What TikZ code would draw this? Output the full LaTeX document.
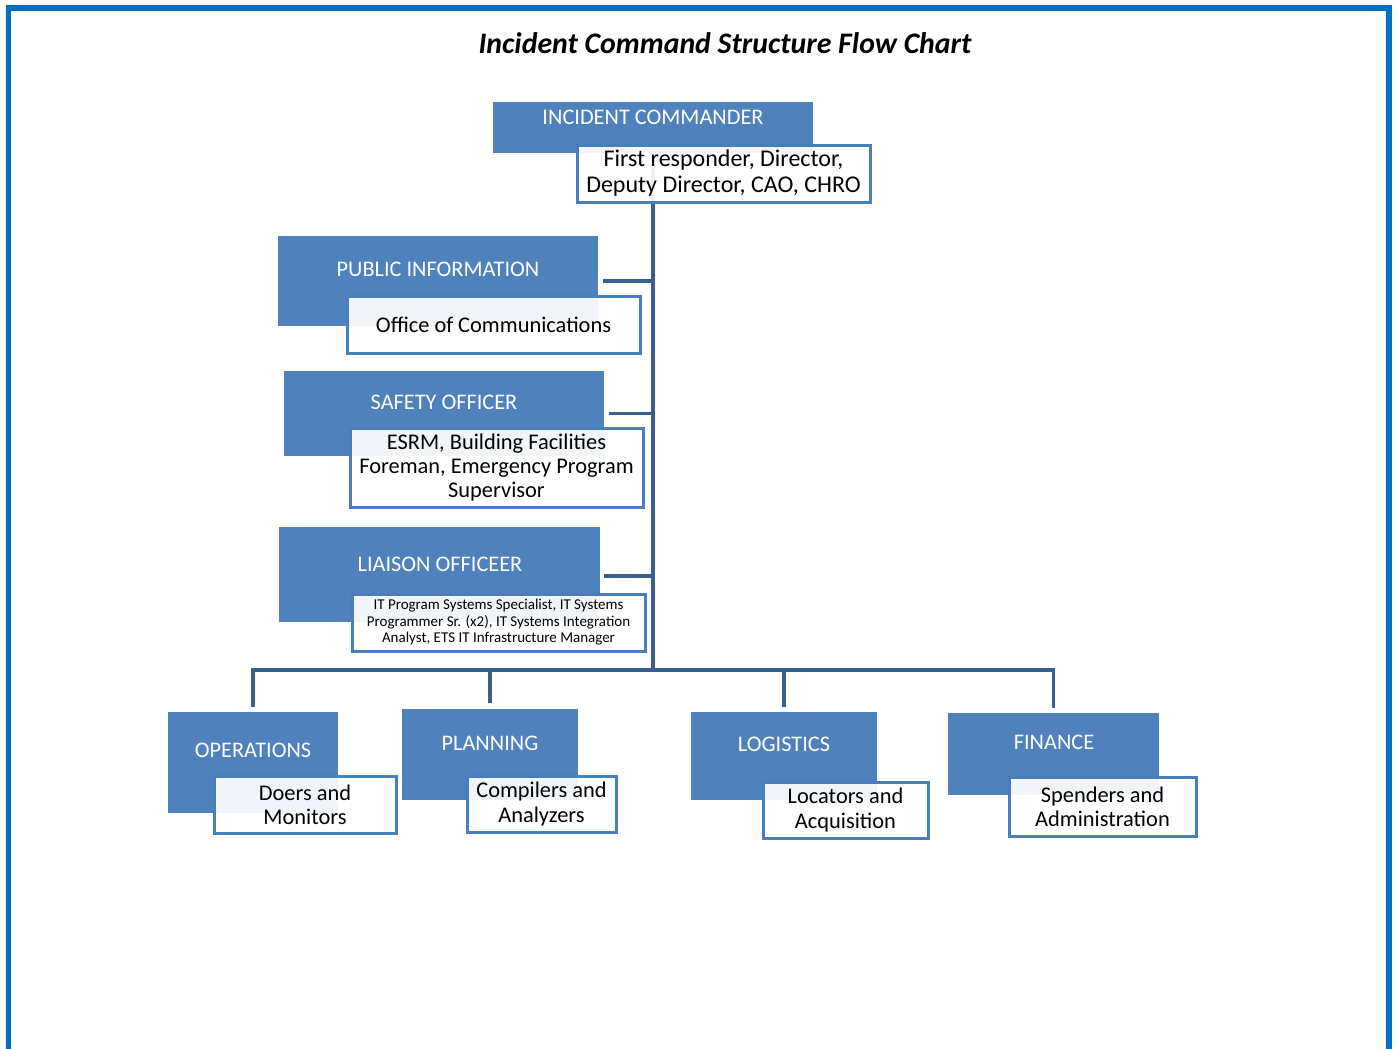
\documentclass[tikz,border=0pt]{standalone}
\usepackage{fontspec}
\setmainfont{Carlito}
\definecolor{boxblue}{HTML}{4F81BD}
\definecolor{linkblue}{HTML}{3B5F8C}
\definecolor{frameblue}{HTML}{0070C0}
\definecolor{edgeblue}{HTML}{4A7EBB}
\tikzset{
  bluebox/.style={draw=none, fill=boxblue, inner sep=0pt},
  whitebox/.style={draw=edgeblue, line width=3pt, fill=white, fill opacity=0.92, text opacity=1, inner sep=0pt, align=center, font=\fontsize{22.4}{24.4}\selectfont},
  bigwhite/.style={whitebox, font=\fontsize{24}{26}\selectfont},
  smallwhite/.style={whitebox, font=\fontsize{15}{16.5}\selectfont},
  headtext/.style={text=white, font=\fontsize{22.3}{25}\selectfont, inner sep=0pt},
  conn/.style={draw=linkblue, line width=3.5pt},
}
\begin{document}
\begin{tikzpicture}[x=1pt,y=-1pt]
\useasboundingbox (0,0) rectangle (1397,1049);
\clip (0,0) rectangle (1397,1049);
\fill[white] (0,0) rectangle (1397,1049);
\draw[frameblue, line width=5.5pt] (8.5,1070) -- (8.5,8) -- (1389,8) -- (1389,1070);

\node[font=\fontsize{29.8}{32}\selectfont\bfseries\itshape, inner sep=0pt] (title) at (725,43) {Incident Command Structure Flow Chart};

% blue boxes
\node[bluebox, minimum width=320pt, minimum height=51pt] (ic) at (653,127.5) {};
\node[bluebox, minimum width=320pt, minimum height=90pt] (pi) at (438,281) {};
\node[bluebox, minimum width=320pt, minimum height=85pt] (so) at (444,413.5) {};
\node[bluebox, minimum width=321pt, minimum height=95pt] (lo) at (439.5,574.5) {};
\node[bluebox, minimum width=170pt, minimum height=101pt] (ops) at (253,762.5) {};
\node[bluebox, minimum width=176pt, minimum height=91pt] (plan) at (490,754.5) {};
\node[bluebox, minimum width=186pt, minimum height=88pt] (log) at (784,756) {};
\node[bluebox, minimum width=211pt, minimum height=82pt] (fin) at (1053.5,754) {};

% header texts
\node[headtext] (ict) at (653,117) {INCIDENT COMMANDER};
\node[headtext] (pit) at (438,269) {PUBLIC INFORMATION};
\node[headtext] (sot) at (444,402) {SAFETY OFFICER};
\node[headtext] (lot) at (440,564) {LIAISON OFFICEER};
\node[headtext] (opst) at (253,750) {OPERATIONS};
\node[headtext] (plant) at (490,743) {PLANNING};
\node[headtext] (logt) at (784,744) {LOGISTICS};
\node[headtext] (fint) at (1054,742) {FINANCE};

% connectors
\coordinate (bus) at (653,670);
\draw[conn] (ic.south) -- (bus);
\draw[conn] ([xshift=5pt]pi.east) -- (pi.east -| bus);
\draw[conn] ([xshift=5pt]so.east) -- (so.east -| bus);
\draw[conn] ([xshift=4pt,yshift=-1.5pt]lo.east) -- ([yshift=-1.5pt]lo.east -| bus);
\draw[conn] ([yshift=5pt]ops.north) |- (bus) -| ([yshift=5pt]fin.north);
\draw[conn] ([yshift=6pt]plan.north) -- (plan.north |- bus);
\draw[conn] ([yshift=5pt]log.north) -- (log.north |- bus);

% white boxes
\node[bigwhite, minimum width=293pt, minimum height=57pt] (icw) at (723.5,173.5) {First responder, Director,\\Deputy Director, CAO, CHRO};
\node[whitebox, minimum width=293pt, minimum height=57pt] (piw) at (493.5,324.5) {Office of Communications};
\node[whitebox, minimum width=293pt, minimum height=79pt] (sow) at (496.5,467.5) {ESRM, Building Facilities\\Foreman, Emergency Program\\Supervisor};
\node[smallwhite, minimum width=293pt, minimum height=57pt] (low) at (498.5,622.5) {IT Program Systems Specialist, IT Systems\\Programmer Sr. (x2), IT Systems Integration\\Analyst, ETS IT Infrastructure Manager};
\node[whitebox, minimum width=182pt, minimum height=57pt] (opsw) at (305,804.5) {Doers and\\Monitors};
\node[whitebox, minimum width=149pt, minimum height=56pt] (planw) at (541.5,804) {Compilers and\\Analyzers};
\node[whitebox, minimum width=165pt, minimum height=56pt] (logw) at (845.5,810) {Locators and\\Acquisition};
\node[whitebox, minimum width=187pt, minimum height=59pt] (finw) at (1102.5,806.5) {Spenders and\\Administration};
\end{tikzpicture}
\end{document}
